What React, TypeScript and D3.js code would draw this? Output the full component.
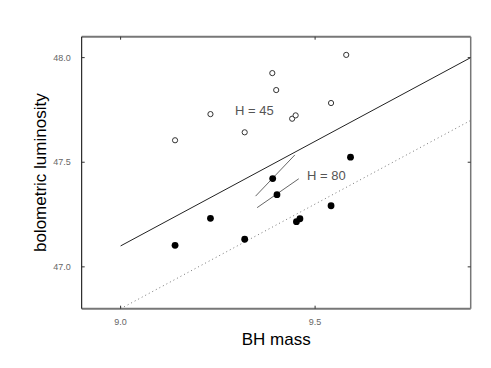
import React, { useRef, useEffect } from 'react';
import * as d3 from 'd3';

// open circles (H = 45)
const openMass = [9.14, 9.231, 9.319, 9.39, 9.40, 9.441, 9.45, 9.541, 9.58];
const openLum = [47.605, 47.73, 47.643, 47.926, 47.845, 47.708, 47.724, 47.783, 48.013];

// filled circles (H = 80)
const fillMass = [9.14, 9.231, 9.319, 9.391, 9.402, 9.452, 9.461, 9.541, 9.591];
const fillLum = [47.103, 47.232, 47.132, 47.422, 47.345, 47.216, 47.23, 47.292, 47.524];

// fitted lines [x0, y0, x1, y1]
const solidLine = [9.0, 47.1, 9.9, 48.0];
const dottedLine = [9.0, 46.8, 9.9, 47.7];
const leaders = [
  [9.448, 47.535, 9.347, 47.338],
  [9.458, 47.421, 9.351, 47.283],
];

const xTicks = [9.0, 9.5];
const yTicks = [47.0, 47.5, 48.0];

const App = () => {
  const ref = useRef<SVGSVGElement>(null);

  useEffect(() => {
    const svg = d3.select(ref.current);
    svg.selectAll('*').remove();

    const left = 81.7, right = 470.7, top = 36.7, bottom = 308.7;
    const x = d3.scaleLinear().domain([8.9, 9.9]).range([left, right]);
    const y = d3.scaleLinear().domain([46.8, 48.1]).range([bottom, top]);
    const font = '"Liberation Sans", Arial, sans-serif';

    // lines
    const seg = (s, stroke, dash, w) =>
      svg.append('line')
        .attr('x1', x(s[0])).attr('y1', y(s[1]))
        .attr('x2', x(s[2])).attr('y2', y(s[3]))
        .attr('stroke', stroke)
        .attr('stroke-width', w)
        .attr('stroke-dasharray', dash);

    seg(solidLine, '#222', null, 1);
    seg(dottedLine, '#777', '1,3', 1);
    leaders.forEach(l => seg(l, '#666', null, 1));

    // points
    svg.append('g').selectAll('circle')
      .data(openMass.map((m, i) => [m, openLum[i]]))
      .enter().append('circle')
      .attr('cx', d => x(d[0])).attr('cy', d => y(d[1]))
      .attr('r', 2.6)
      .attr('fill', 'white')
      .attr('stroke', '#333')
      .attr('stroke-width', 1);

    svg.append('g').selectAll('circle')
      .data(fillMass.map((m, i) => [m, fillLum[i]]))
      .enter().append('circle')
      .attr('cx', d => x(d[0])).attr('cy', d => y(d[1]))
      .attr('r', 3.4)
      .attr('fill', '#000');

    // frame
    svg.append('line').attr('x1', left).attr('x2', right).attr('y1', top).attr('y2', top)
      .attr('stroke', '#777').attr('stroke-width', 2);
    svg.append('line').attr('x1', left).attr('x2', right).attr('y1', bottom).attr('y2', bottom)
      .attr('stroke', '#777').attr('stroke-width', 2);
    svg.append('line').attr('x1', right).attr('x2', right).attr('y1', top).attr('y2', bottom)
      .attr('stroke', '#777').attr('stroke-width', 1.5);
    svg.append('line').attr('x1', left).attr('x2', left).attr('y1', top).attr('y2', bottom)
      .attr('stroke', '#000').attr('stroke-width', 1);

    // inward ticks
    xTicks.forEach(t => {
      svg.append('line').attr('x1', x(t)).attr('x2', x(t)).attr('y1', bottom).attr('y2', bottom - 3)
        .attr('stroke', '#333');
      svg.append('line').attr('x1', x(t)).attr('x2', x(t)).attr('y1', top).attr('y2', top + 3)
        .attr('stroke', '#333');
      svg.append('text').attr('x', x(t)).attr('y', bottom + 16)
        .attr('text-anchor', 'middle').attr('font-family', font).attr('font-size', 9)
        .attr('fill', '#666').text(d3.format('.1f')(t));
    });
    yTicks.forEach(t => {
      svg.append('line').attr('x1', left).attr('x2', left + 3).attr('y1', y(t)).attr('y2', y(t))
        .attr('stroke', '#333');
      svg.append('line').attr('x1', right).attr('x2', right - 3).attr('y1', y(t)).attr('y2', y(t))
        .attr('stroke', '#333');
      svg.append('text').attr('x', left - 11).attr('y', y(t) + 3)
        .attr('text-anchor', 'end').attr('font-family', font).attr('font-size', 9)
        .attr('fill', '#666').text(d3.format('.1f')(t));
    });

    // annotations
    svg.append('text').attr('x', 235).attr('y', 115)
      .attr('font-family', font).attr('font-size', 13).attr('fill', '#555').text('H = 45');
    svg.append('text').attr('x', 307).attr('y', 180)
      .attr('font-family', font).attr('font-size', 13).attr('fill', '#555').text('H = 80');

    // axis titles
    svg.append('text').attr('x', (left + right) / 2).attr('y', 345)
      .attr('text-anchor', 'middle').attr('font-family', font).attr('font-size', 17)
      .attr('fill', '#000').text('BH mass');
    svg.append('text')
      .attr('transform', `translate(46,${(top + bottom) / 2}) rotate(-90)`)
      .attr('text-anchor', 'middle').attr('font-family', font).attr('font-size', 17)
      .attr('fill', '#000').text('bolometric luminosity');
  }, []);

  return (
    <svg ref={ref} width={491} height={368}
      style={{ position: 'absolute', left: 0, top: 0, background: '#fff' }} />
  );
};

export default App;
